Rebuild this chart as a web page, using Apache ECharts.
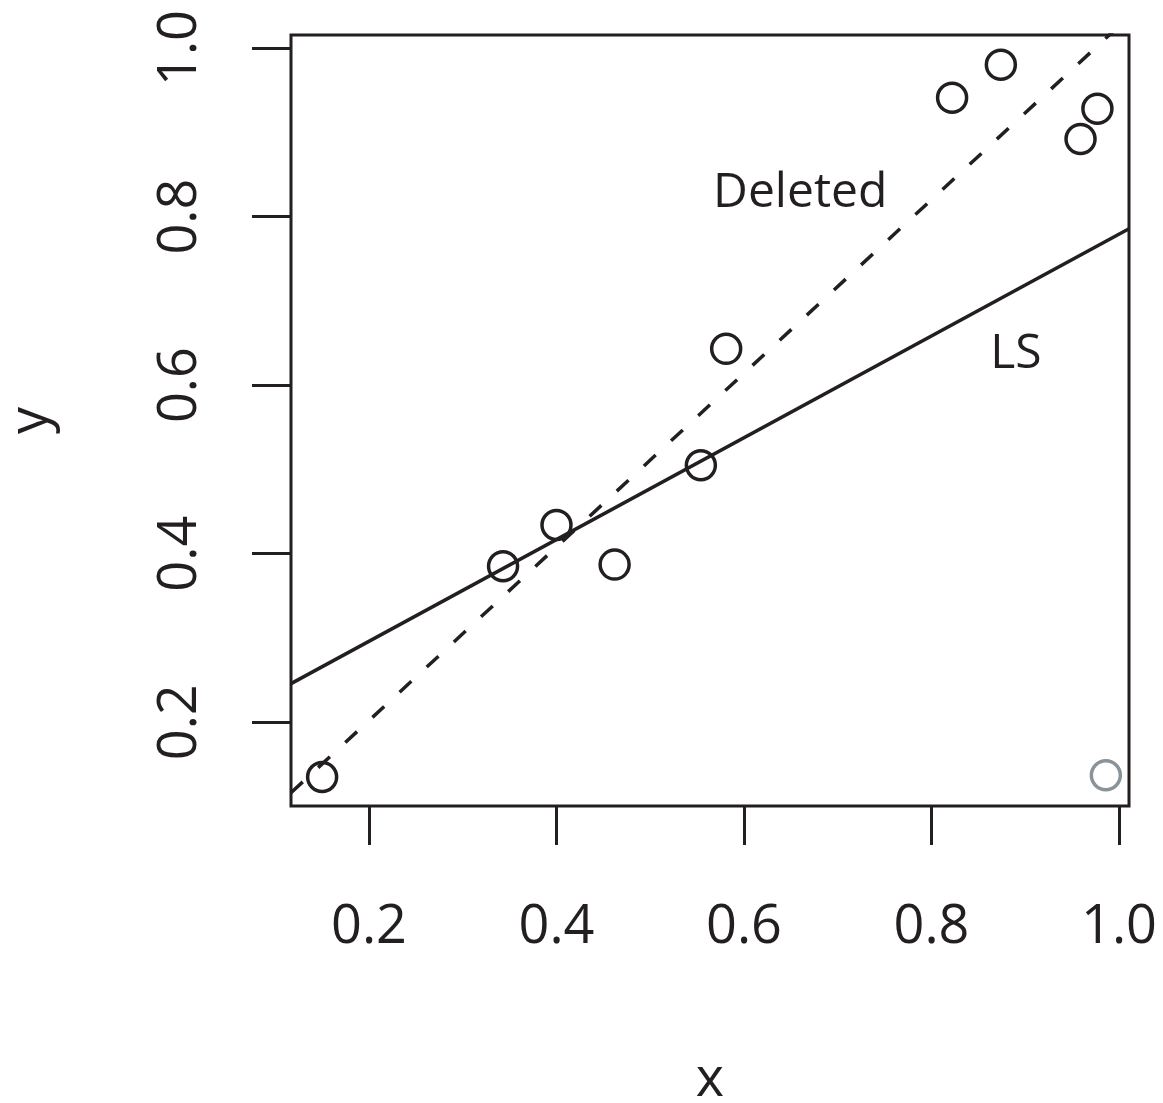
<!DOCTYPE html>
<html>
<head>
<meta charset="utf-8">
<script src="https://cdn.jsdelivr.net/npm/echarts@6/dist/echarts.min.js"></script>
<style>html,body{margin:0;padding:0;background:#fff}#c{width:1163px;height:1103px}</style>
</head>
<body>
<div id="c"></div>
<script>
// ---- data ----
const xValues = [0.150, 0.343, 0.400, 0.462, 0.554, 0.581, 0.822, 0.874, 0.959, 0.977];
const yValues = [0.135, 0.385, 0.434, 0.387, 0.505, 0.643, 0.941, 0.980, 0.892, 0.928];
const outlierX = [0.986];
const outlierY = [0.137];
// fitted lines: [intercept, slope]
const lsCoef = [0.1753, 0.6037];
const deletedCoef = [-0.004, 1.030];
const tickValues = [0.2, 0.4, 0.6, 0.8, 1.0];
const xRange = [0.1168, 1.0107];
const yRange = [0.1006, 1.0154];
const lineLabels = ['Deleted', 'LS'];
const labelAt = [[0.66, 0.827], [0.890, 0.636]];

const ink = '#231f20';
const font = '"Open Sans", "Noto Sans", sans-serif';
const pts = xValues.map((x, i) => [x, yValues[i]]);
const outPts = outlierX.map((x, i) => [x, outlierY[i]]);
const lineOf = c => xRange.map(x => [x, c[0] + c[1] * x]);

const chart = echarts.init(document.getElementById('c'), null, {renderer: 'canvas'});
chart.setOption({
  animation: false,
  backgroundColor: '#fff',
  grid: {left: 291, top: 35, right: 34, bottom: 297, show: true, borderColor: ink, borderWidth: 3, backgroundColor: 'transparent', outerBoundsMode: 'none'},
  xAxis: {
    type: 'value', min: xRange[0], max: xRange[1],
    axisLine: {show: false}, splitLine: {show: false},
    axisTick: {show: true, inside: false, length: 39, customValues: tickValues, lineStyle: {color: ink, width: 3}},
    axisLabel: {customValues: tickValues, formatter: v => v.toFixed(1), fontSize: 54, fontFamily: font, color: ink, margin: 95},
    name: 'x', nameLocation: 'middle', nameGap: 248,
    nameTextStyle: {fontSize: 54, fontFamily: font, color: ink}
  },
  yAxis: {
    type: 'value', min: yRange[0], max: yRange[1],
    axisLine: {show: false}, splitLine: {show: false},
    axisTick: {show: true, inside: false, length: 39, customValues: tickValues, lineStyle: {color: ink, width: 3}},
    axisLabel: {customValues: tickValues, formatter: v => v.toFixed(1), fontSize: 54, fontFamily: font, color: ink, margin: 83, rotate: 90},
    name: 'y', nameLocation: 'middle', nameGap: 232, nameRotate: 90,
    nameTextStyle: {fontSize: 54, fontFamily: font, color: ink}
  },
  series: [
    {type: 'line', data: lineOf(lsCoef), showSymbol: false, clip: true, lineStyle: {color: ink, width: 3.5}, silent: true},
    {type: 'line', data: lineOf(deletedCoef), showSymbol: false, clip: true, lineStyle: {color: ink, width: 3.5, type: [16, 21]}, silent: true},
    {type: 'scatter', data: pts, symbol: 'circle', symbolSize: 29, itemStyle: {color: 'transparent', borderColor: ink, borderWidth: 3.5, opacity: 1}},
    {type: 'scatter', data: outPts, symbol: 'circle', symbolSize: 29, itemStyle: {color: 'transparent', borderColor: '#8a9399', borderWidth: 3.5, opacity: 1}},
    {type: 'scatter', data: labelAt.map((p, i) => ({value: p, name: lineLabels[i]})), symbolSize: 0, itemStyle: {opacity: 1},
      label: {show: true, position: 'inside', formatter: p => p.name, fontSize: 48, fontFamily: font, color: ink}}
  ]
});
</script>
</body>
</html>
